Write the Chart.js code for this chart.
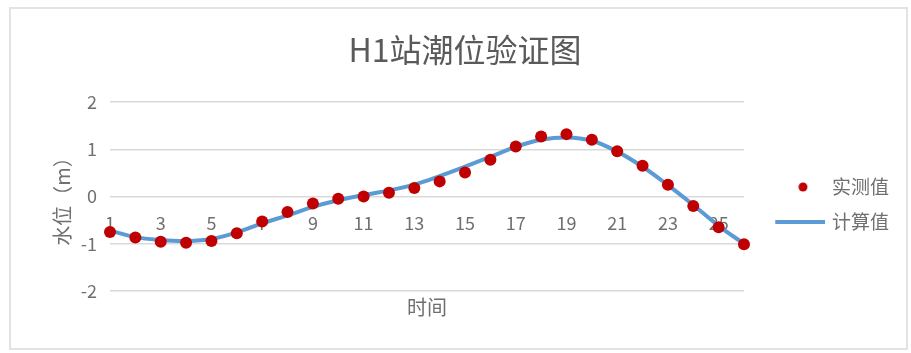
<!DOCTYPE html>
<html>
<head>
<meta charset="utf-8">
<script src="https://cdn.jsdelivr.net/npm/chart.js@4"></script>
<style>
  html, body { margin: 0; padding: 0; background: #fff; }
  #wrap { position: relative; width: 911px; height: 353px; }
  #frame { position: absolute; left: 9px; top: 7px; width: 899px; height: 343px; border: 2px solid #e3e3e3; box-sizing: border-box; }
  canvas { position: absolute; left: 0; top: 0; }
</style>
</head>
<body>
<div id="wrap">
  <div id="frame"></div>
  <canvas id="tideChart" width="911" height="353"></canvas>
</div>
<script>
// 时间序号
const hours = ['1', '2', '3', '4', '5', '6', '7', '8', '9', '10', '11', '12', '13',
    '14', '15', '16', '17', '18', '19', '20', '21', '22', '23', '24', '25', '26'];

// 实测水位 (m)
const measured = [-0.75, -0.87, -0.96, -0.98, -0.94, -0.78, -0.53, -0.33, -0.15, -0.05,
    0.00, 0.08, 0.18, 0.32, 0.51, 0.78, 1.06, 1.27, 1.32, 1.20, 0.96, 0.65, 0.25,
    -0.20, -0.65, -1.01];

// 计算水位 (m)
const computed = [-0.72, -0.86, -0.92, -0.94, -0.90, -0.76, -0.57, -0.40, -0.22, -0.08,
    0.03, 0.13, 0.25, 0.43, 0.63, 0.84, 1.05, 1.20, 1.25, 1.18, 0.95, 0.63, 0.24,
    -0.18, -0.62, -1.00];

const yTicks = [-2, -1, 0, 1, 2];

const textColor = '#6f6f6f';
const dotColor = '#c00000';
const lineColor = '#5b9bd5';

Chart.defaults.font.family = '"Noto Sans CJK SC", "Noto Sans", sans-serif';
Chart.defaults.color = textColor;

// legend symbols, drawn on small canvases so the dot and the line can differ in width
function legendDot() {
    const c = document.createElement('canvas');
    c.width = 36; c.height = 12;
    const g = c.getContext('2d');
    g.fillStyle = dotColor;
    g.beginPath();
    g.arc(29.75, 6, 4.5, 0, Math.PI * 2);
    g.fill();
    return c;
}
function legendLine() {
    const c = document.createElement('canvas');
    c.width = 68; c.height = 8;
    const g = c.getContext('2d');
    g.strokeStyle = lineColor;
    g.lineWidth = 4;
    g.beginPath();
    g.moveTo(18, 4);
    g.lineTo(68, 4);
    g.stroke();
    return c;
}
const legendSymbols = [legendDot(), legendLine()];

const ctx = document.getElementById('tideChart');

const tideChart = new Chart(ctx, {
    type: 'line',
    data: {
        labels: hours,
        datasets: [{
            label: '实测值',
            data: measured,
            showLine: false,
            pointRadius: 6,
            pointHoverRadius: 6,
            pointBackgroundColor: dotColor,
            pointBorderWidth: 0,
            borderColor: dotColor
        }, {
            label: '计算值',
            data: computed,
            borderColor: lineColor,
            borderWidth: 4,
            pointRadius: 0,
            tension: 0.4,
            fill: false
        }]
    },
    options: {
        responsive: false,
        animation: false,
        layout: { padding: { left: 31, right: 12, top: 0, bottom: 34 } },
        plugins: {
            title: {
                display: true,
                text: 'H1站潮位验证图',
                color: '#5a5a5a',
                font: { size: 32, weight: 'normal' },
                padding: { top: 31, bottom: 32.6 }
            },
            legend: {
                position: 'right',
                fullSize: false,
                title: { display: true, text: ' ', font: { size: 10 }, padding: { top: 4, bottom: 0 } },
                labels: {
                    usePointStyle: true,
                    pointStyleWidth: 62.5,
                    padding: 16,
                    color: textColor,
                    font: { size: 19 },
                    generateLabels(chart) {
                        const items = Chart.defaults.plugins.legend.labels.generateLabels(chart);
                        items.forEach((it, i) => { it.pointStyle = legendSymbols[i]; });
                        return items;
                    }
                }
            },
            tooltip: { enabled: false }
        },
        scales: {
            x: {
                type: 'category',
                position: { y: 0 },
                offset: false,
                grid: { display: false, drawTicks: false },
                border: { display: false },
                ticks: {
                    autoSkip: false,
                    maxRotation: 0,
                    padding: 16,
                    font: { size: 18 },
                    callback(value, index) {
                        return index % 2 === 0 ? hours[index] : '';
                    }
                }
            },
            xTitle: {
                type: 'category',
                position: 'bottom',
                display: true,
                grid: { display: false, drawTicks: false },
                border: { display: false },
                ticks: { display: false },
                title: {
                    display: true,
                    text: '时间',
                    font: { size: 20 },
                    padding: { top: 4, bottom: 0 }
                }
            },
            y: {
                min: -2,
                max: 2,
                afterFit(scale) { scale.width = 79; },
                afterBuildTicks(scale) { scale.ticks = yTicks.map(v => ({ value: v })); },
                grid: { color: '#d9d9d9', lineWidth: 1.5, drawTicks: false },
                border: { display: false },
                ticks: { padding: 13, font: { size: 18 } },
                title: {
                    display: true,
                    text: '水位（m）',
                    font: { size: 20 },
                    padding: { top: 19, bottom: 0 }
                }
            }
        }
    }
});
</script>
</body>
</html>
